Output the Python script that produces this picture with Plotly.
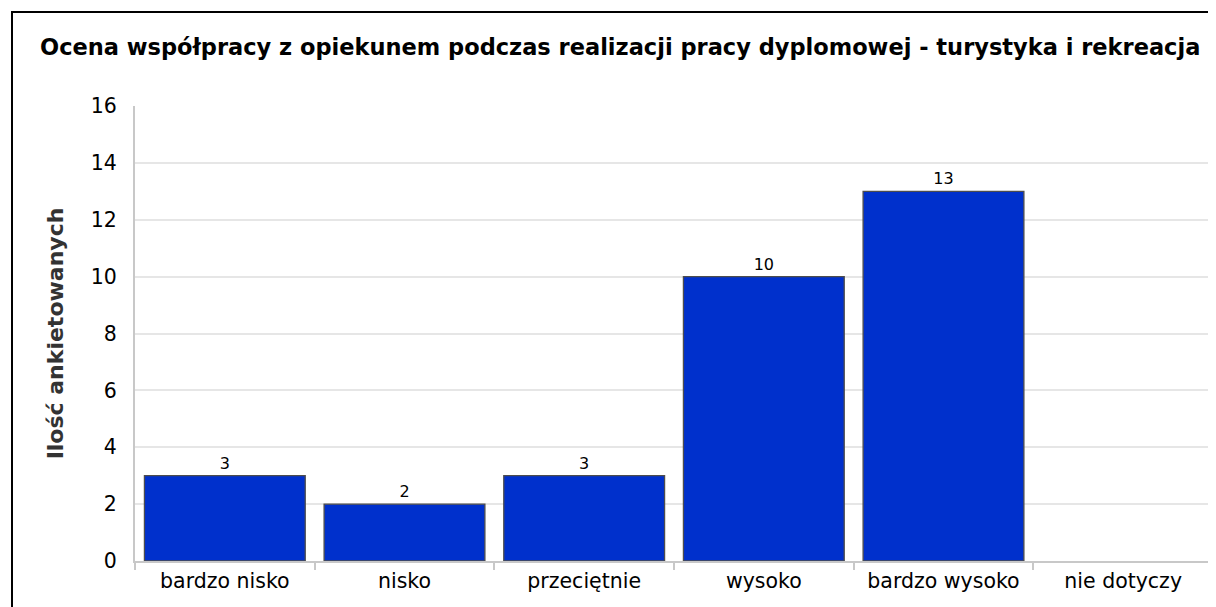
import plotly.graph_objects as go

categories = ["bardzo nisko", "nisko", "przeciętnie", "wysoko", "bardzo wysoko", "nie dotyczy"]
values = [3, 2, 3, 10, 13, 0]
labels = ["3", "2", "3", "10", "13", ""]
y_ticks = [0, 2, 4, 6, 8, 10, 12, 14, 16]

OFF = 8  # page body margin
W, H = 1216 - OFF, 607 - OFF
L, R, T, B = 135 - OFF, 3, 106 - OFF, 46
pw, ph = W - L - R, H - T - B

line_widths = [0 if v == 0 else 1.3 for v in values]

fig = go.Figure()
fig.add_trace(go.Bar(
    x=categories, y=values, text=labels, textposition="outside",
    textfont=dict(family="DejaVu Sans", size=16, color="#000000"),
    marker=dict(color="#0030CC", line=dict(color="#4d4d4d", width=line_widths)),
    cliponaxis=False, width=0.895, constraintext="none",
))

fig.update_layout(
    width=W, height=H,
    margin=dict(l=L, r=R, t=T, b=B),
    paper_bgcolor="white", plot_bgcolor="white",
    showlegend=False,
    title=dict(
        text="<b>Ocena współpracy z opiekunem podczas realizacji pracy dyplomowej - turystyka i rekreacja</b>",
        font=dict(family="DejaVu Sans", size=22.5, color="#000000"),
        xref="container", yref="container", x=(40 - OFF) / W, xanchor="left",
        y=1 - (47 - OFF) / H, yanchor="middle",
    ),
    xaxis=dict(
        showgrid=False, showline=True, linecolor="#c8c8c8", linewidth=2,
        mirror=False, ticks="outside", tickson="boundaries", ticklen=7,
        tickcolor="#c8c8c8", tickwidth=2,
        tickfont=dict(family="DejaVu Sans", size=20.5, color="#000000"),
        range=[-0.5, 5.5],
    ),
    yaxis=dict(
        range=[0, 16], tickvals=y_ticks, showgrid=True, gridcolor="#e6e6e6", gridwidth=2,
        showline=True, linecolor="#c8c8c8", linewidth=2, zeroline=False,
        ticks="", ticklabelstandoff=12,
        tickfont=dict(family="DejaVu Sans", size=20.5, color="#000000"),
        title=dict(text="<b>Ilość ankietowanych</b>", standoff=21,
                   font=dict(family="DejaVu Sans", size=22, color="#333333")),
    ),
    shapes=[
        dict(type="line", xref="paper", yref="paper", x0=1, x1=1, y0=0, y1=1,
             line=dict(color="#d0d0d0", width=2)),
        dict(type="rect", xref="paper", yref="paper",
             x0=(4 - L) / pw, x1=1.2, y0=(H - B - 4) / ph, y1=-0.3,
             line=dict(color="#000000", width=2)),
    ],
)

fig.write_html("out.html")
